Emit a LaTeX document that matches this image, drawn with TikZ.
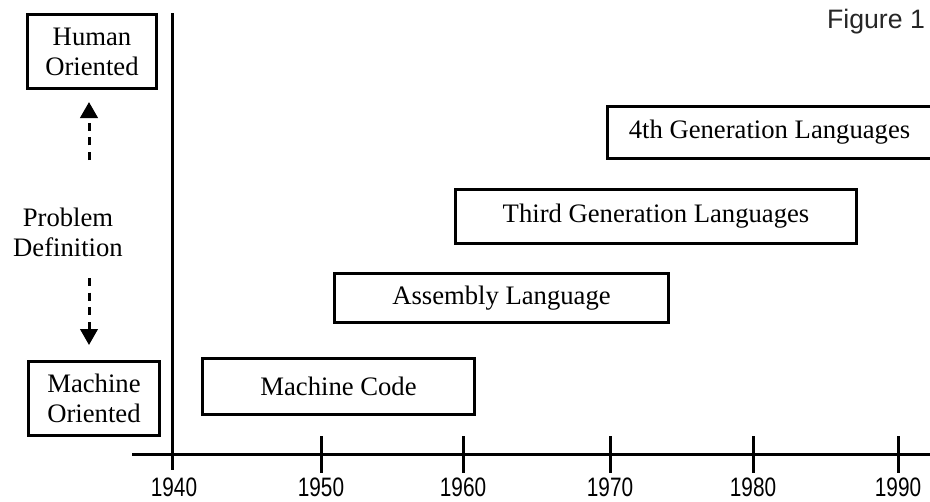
\documentclass[tikz,border=0pt]{standalone}
\usepackage{fontspec}
\setmainfont{Liberation Serif}
\newfontfamily\sansf{Liberation Sans}
\newfontfamily\numf[FakeStretch=0.78]{Liberation Sans}
\usetikzlibrary{arrows.meta}
\begin{document}
\begin{tikzpicture}[x=0.75pt,y=-0.75pt,
  lbl/.style={font=\fontsize{20}{22.5}\selectfont, inner sep=0pt, align=center},
  era/.style={lbl, draw, line width=2.25pt},
  axisline/.style={line width=2.25pt},
  tickline/.style={line width=2.25pt},
  yearlbl/.style={font=\numf\fontsize{20}{20}\selectfont, inner sep=0pt},
  dasharrow/.style={line width=2.25pt, dash pattern=on 6pt off 5pt, -{Triangle[width=13pt,length=12pt]}}]
\useasboundingbox[fill=white] (0,0) rectangle (930,501);
% axes
\coordinate (ytop) at (172,13);
\coordinate (ybot) at (172,470);
\coordinate (xleft) at (132,454);
\coordinate (xright) at (932,454);
\draw[axisline] (ytop) -- (ybot);
\draw[axisline] (xleft) -- (xright);
% ticks and labels
\foreach \x/\yr in {321/1950,463/1960,610/1970,753/1980,898/1990}{
  \coordinate (t\yr a) at (\x,436);
  \coordinate (t\yr b) at (\x,473);
  \draw[tickline] (t\yr a) -- (t\yr b);
}
\foreach \x/\yr in {174/1940,321/1950,463/1960,610/1970,753/1980,898/1990}{
  \node[yearlbl] (y\yr) at (\x,487) {\yr};
}
% era boxes
\node[era, minimum width=204pt, minimum height=42pt] (mc) at (338.5,386.5) {Machine Code};
\node[era, minimum width=250.5pt, minimum height=36.75pt] (asm) at (501.5,298) {Assembly Language};
\node[era, minimum width=300.75pt, minimum height=40.5pt] (third) at (656,216.5) {Third Generation Languages};
\node[era, minimum width=243.75pt, minimum height=39pt] (fourth) at (769.5,132.5) {4th Generation Languages};
% left side
\node[era, minimum width=96.75pt, minimum height=55.5pt] (human) at (92,51.5) {Human\\Oriented};
\node[era, minimum width=98.25pt, minimum height=55.5pt] (machine) at (94,398.5) {Machine\\Oriented};
\node[lbl] (pd) at (68,232) {Problem\\Definition};
\coordinate (upstart) at (89,160);
\coordinate (upend) at (89,102);
\coordinate (downstart) at (89,278);
\coordinate (downend) at (89,345);
\draw[dasharrow] (upstart) -- (upend);
\draw[dasharrow] (downstart) -- (downend);
% title
\node[font=\sansf\fontsize{20}{20}\selectfont, text=black!85, inner sep=0pt] (fig) at (876,22) {Figure 1};
\end{tikzpicture}
\end{document}
